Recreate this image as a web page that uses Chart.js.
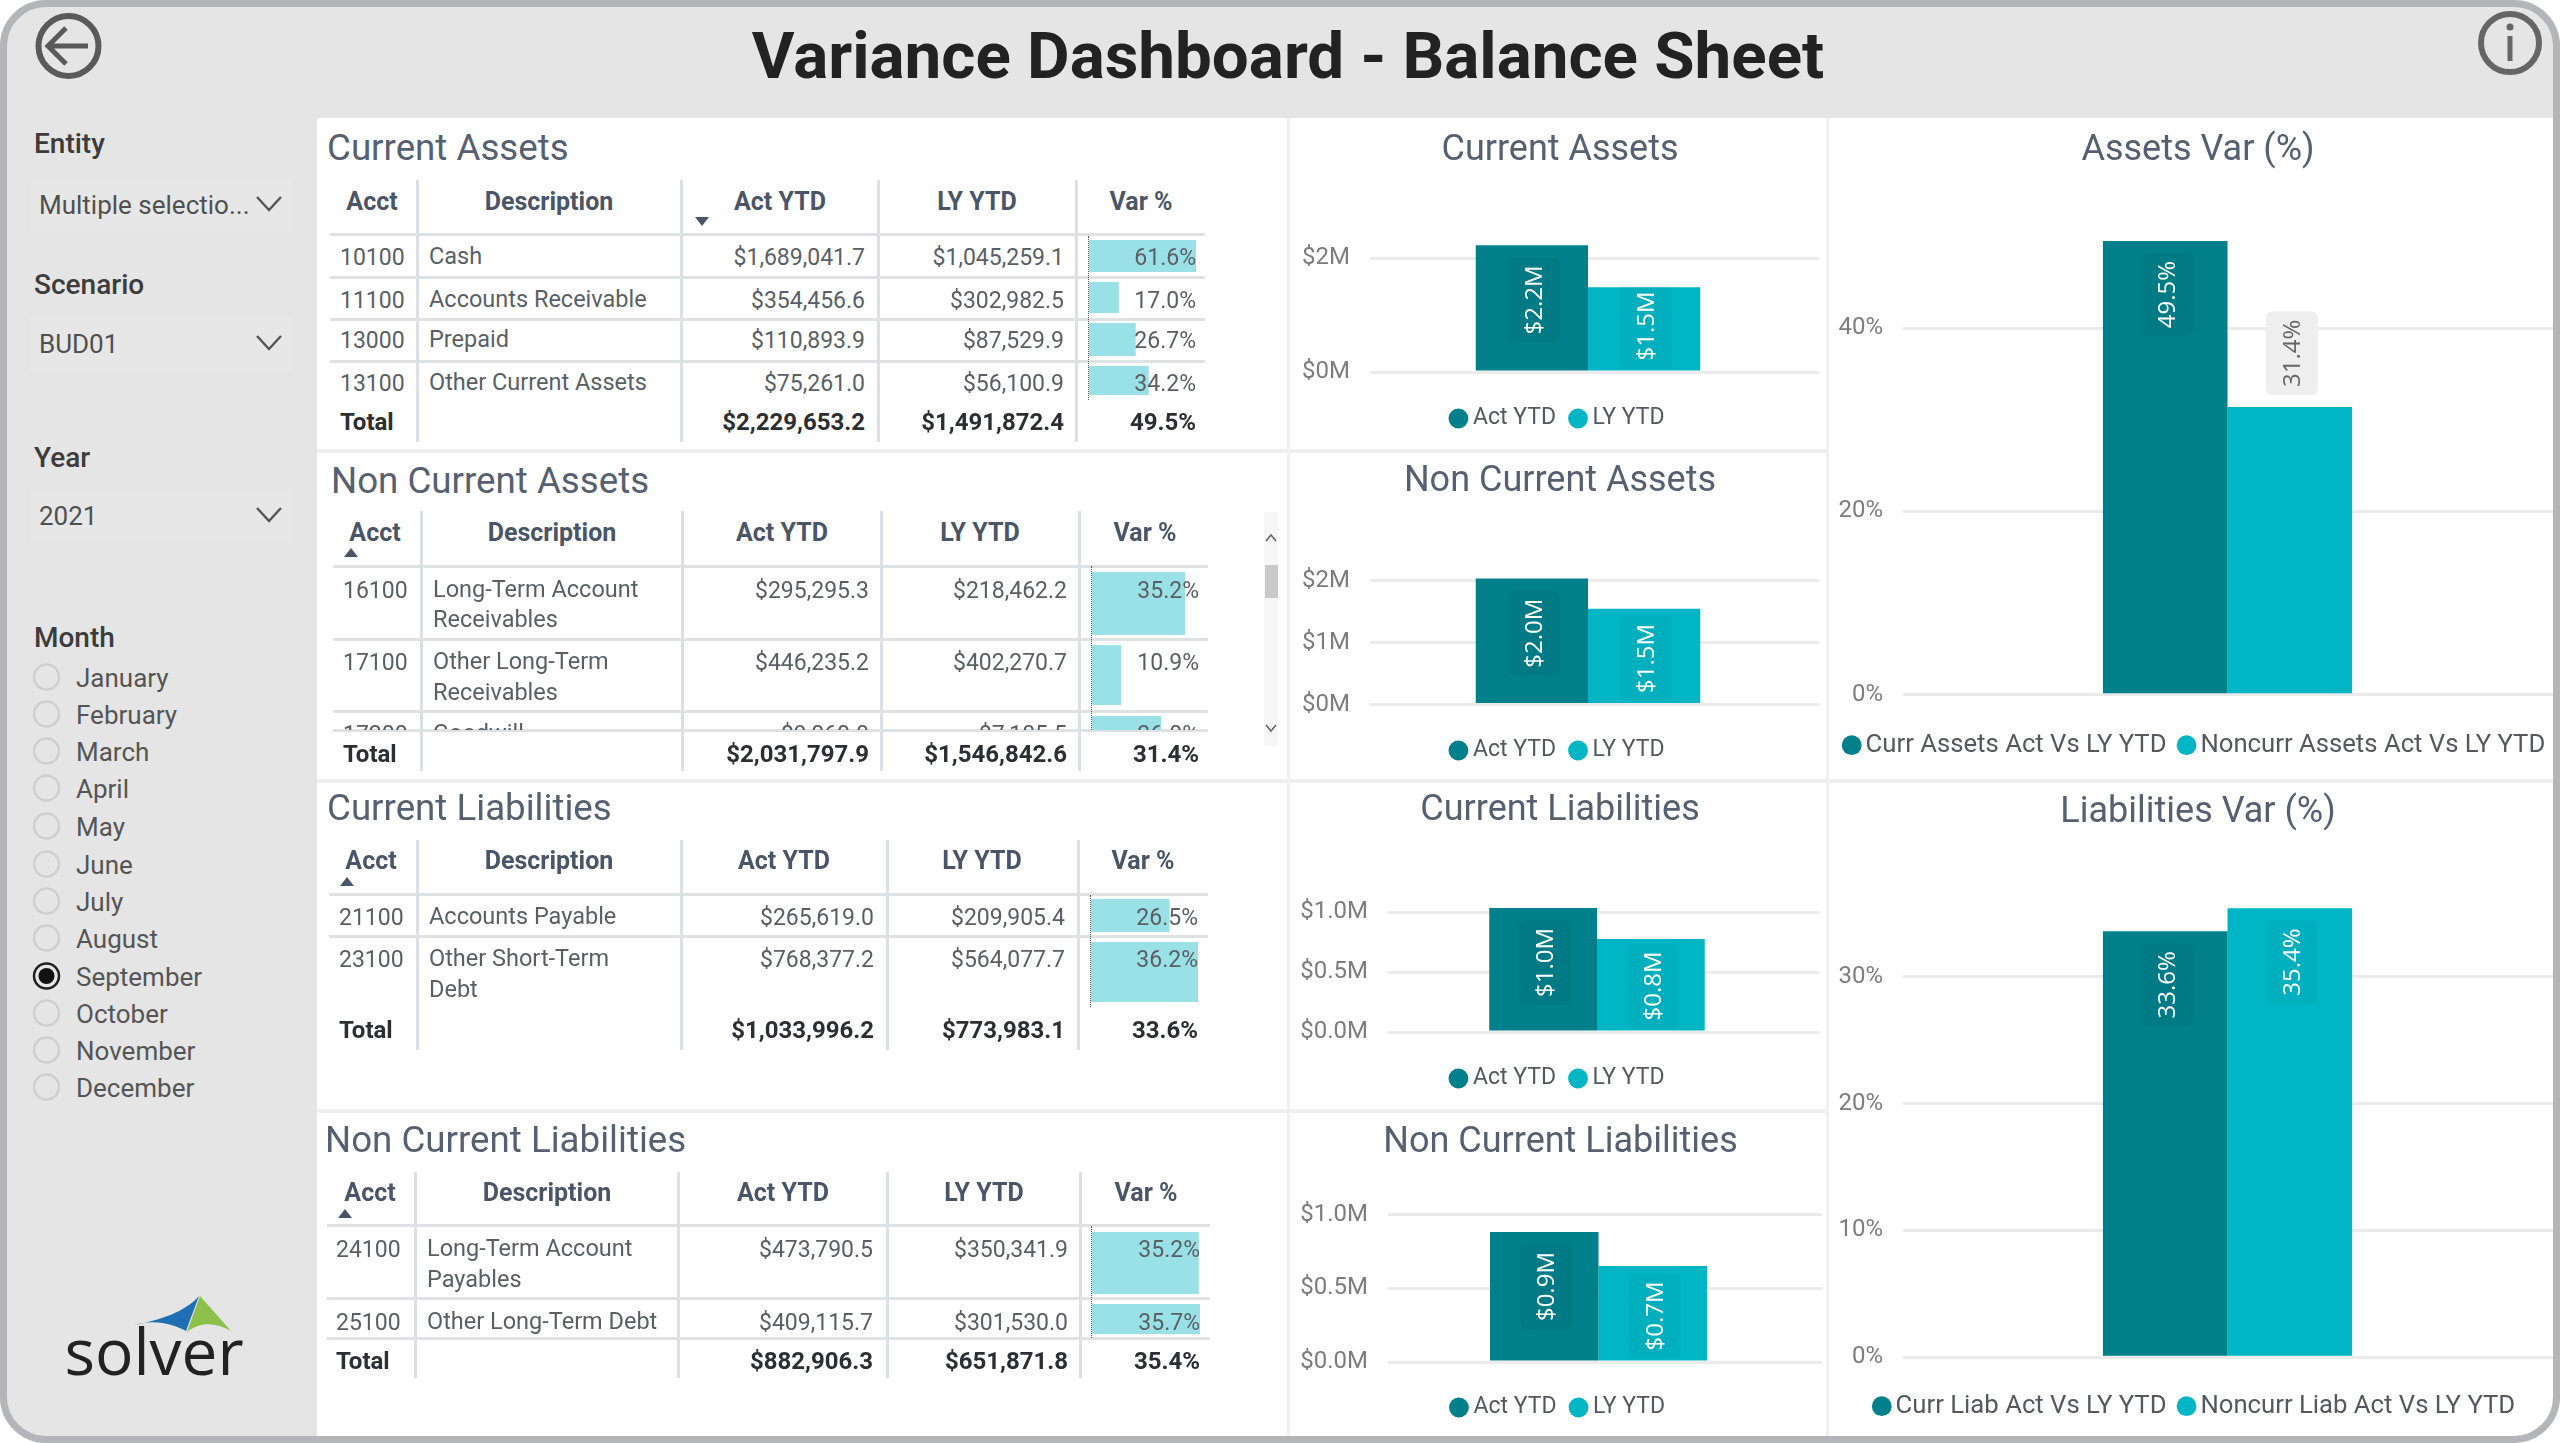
<!DOCTYPE html>
<html><head><meta charset="utf-8">
<script src="https://cdn.jsdelivr.net/npm/chart.js@4"></script>
<style>
html,body{margin:0;padding:0;background:#fff;}
#page{position:relative;width:2560px;height:1443px;overflow:hidden;background:#e5e5e5;font-family:Roboto,sans-serif;}
#page div.t{position:absolute;white-space:nowrap;line-height:1;}
#page canvas{position:absolute;}
.box{position:absolute;}
#frame{position:absolute;left:0;top:0;width:2546px;height:1429px;border:7px solid #b3b5b8;border-radius:46px;box-shadow:0 0 0 60px #fff;pointer-events:none;z-index:50;}
svg{position:absolute;overflow:visible;}
</style></head><body><div id="page"></div>
<script>
// ---------- data ----------
const months=['January','February','March','April','May','June','July','August','September','October','November','December'];
const selectedMonth='September';
const filters=[['Entity','Multiple selectio...'],['Scenario','BUD01'],['Year','2021']];
const tableHeaders=['Acct','Description','Act YTD','LY YTD','Var %'];
const currentAssetsRows=[
 ['10100',['Cash'],'$1,689,041.7','$1,045,259.1',61.6],
 ['11100',['Accounts Receivable'],'$354,456.6','$302,982.5',17.0],
 ['13000',['Prepaid'],'$110,893.9','$87,529.9',26.7],
 ['13100',['Other Current Assets'],'$75,261.0','$56,100.9',34.2]];
const currentAssetsTotal=['$2,229,653.2','$1,491,872.4','49.5%'];
const nonCurrentAssetsRows=[
 ['16100',['Long-Term Account','Receivables'],'$295,295.3','$218,462.2',35.2],
 ['17100',['Other Long-Term','Receivables'],'$446,235.2','$402,270.7',10.9],
 ['17200',['Goodwill'],'$9,060.0','$7,185.5',26.0]];
const nonCurrentAssetsTotal=['$2,031,797.9','$1,546,842.6','31.4%'];
const currentLiabRows=[
 ['21100',['Accounts Payable'],'$265,619.0','$209,905.4',26.5],
 ['23100',['Other Short-Term','Debt'],'$768,377.2','$564,077.7',36.2]];
const currentLiabTotal=['$1,033,996.2','$773,983.1','33.6%'];
const nonCurrentLiabRows=[
 ['24100',['Long-Term Account','Payables'],'$473,790.5','$350,341.9',35.2],
 ['25100',['Other Long-Term Debt'],'$409,115.7','$301,530.0',35.7]];
const nonCurrentLiabTotal=['$882,906.3','$651,871.8','35.4%'];
const ytdLabels=['Act YTD','LY YTD'];
const currentAssetsBars=[2.2297,1.4919];
const nonCurrentAssetsBars=[2.0318,1.5468];
const currentLiabBars=[1.034,0.774];
const nonCurrentLiabBars=[0.8829,0.6519];
const assetsVarLabels=['Curr Assets Act Vs LY YTD','Noncurr Assets Act Vs LY YTD'];
const assetsVarValues=[49.5,31.4];
const liabVarLabels=['Curr Liab Act Vs LY YTD','Noncurr Liab Act Vs LY YTD'];
const liabVarValues=[33.6,35.4];
const tickM2=[0,2], tickM1=[0,1,2], tickHalf=[0,0.5,1], tickPctA=[0,20,40], tickPctL=[0,10,20,30];

// ---------- helpers ----------
const FONT='Roboto, sans-serif';
const page=document.getElementById('page');
const C_HEAD='#4a5567', C_BODY='#5a5f66', C_TOTAL='#2b2f33', C_TITLE='#566070';
const C_ACT='#00808a', C_LY='#00b6c5', C_DATABAR='#9ae1e7';
function box(x,y,w,h,bg,extra){const d=document.createElement('div');d.className='box';
 d.style.cssText=`left:${x}px;top:${y}px;width:${w}px;height:${h}px;background:${bg};`+(extra||'');(page||document.body).appendChild(d);return d;}
function txt(s,x,y,o){o=o||{};const d=document.createElement('div');d.className='t';d.textContent=s;
 const tx=o.align==='right'?'-100%':o.align==='center'?'-50%':'0';
 d.style.cssText=`left:${x}px;top:${y}px;transform:translate(${tx},-50%);font-size:${o.size||23}px;font-weight:${o.weight||400};color:${o.color||C_BODY};`+(o.font?`font-family:${o.font};`:'')+(o.ls?`letter-spacing:${o.ls}px;`:'');
 (o.parent||page).appendChild(d);return d;}
function svg(html){const s=document.createElementNS('http://www.w3.org/2000/svg','svg');s.setAttribute('width','2560');s.setAttribute('height','1443');s.style.left='0';s.style.top='0';s.innerHTML=html;page.appendChild(s);return s;}
Chart.defaults.animation=false;
Chart.defaults.font.family=FONT;
Chart.defaults.devicePixelRatio=1;

// ---------- static frame ----------
box(317,118,2243,1325,'#ffffff');
[[317,449,1510,4],[317,779,1510,4],[317,1109,1510,4],[1827,779,733,4]].forEach(a=>box(a[0],a[1],a[2],a[3],'#efefef'));
[[1287,118,3,1325],[1826,118,3,1325]].forEach(a=>box(a[0],a[1],a[2],a[3],'#f0f0f0'));
txt('Variance Dashboard - Balance Sheet',1288,56,{align:'center',size:65.5,weight:700,color:'#222222'});
svg(`<circle cx="68.5" cy="46" r="30" fill="none" stroke="#5a5a5a" stroke-width="6"/>
<path d="M50 46H88M66 28L48 46L66 64" fill="none" stroke="#5a5a5a" stroke-width="5"/>
<circle cx="2510" cy="43" r="29" fill="none" stroke="#666" stroke-width="6"/>
<rect x="2507.5" y="36" width="5" height="25" fill="#666"/><circle cx="2510" cy="27" r="3.5" fill="#666"/>
<path d="M135 1325C160 1320 185 1312 199 1296L186 1331C170 1322 150 1320 135 1325Z" fill="#1f6fb5"/>
<path d="M200 1296L231 1331C215 1322 200 1322 187 1332Z" fill="#8cc04b"/>`);
txt('solver',154,1351,{align:'center',size:64,color:'#222',font:'"Open Sans",sans-serif'});

// ---------- sidebar ----------
const filterY=[[144,205],[285,344],[458,516]];
filters.forEach((f,i)=>{const y=filterY[i];
 txt(f[0],34,y[0],{size:28,color:'#3c3c3c',weight:500});
 box(30,y[1]-27,262,54,'#e7e7e7');
 txt(f[1],39,y[1],{size:26,color:'#505050'});
 svg(`<polyline points="257,${y[1]-8} 269,${y[1]+5} 281,${y[1]-8}" fill="none" stroke="#555" stroke-width="2.4"/>`);
});
txt('Month',34,638,{size:28,color:'#3c3c3c',weight:500});
const monthY=[678,715,752,789,827,865,902,939,977,1014,1051,1088];
months.forEach((m,i)=>{const y=monthY[i],on=m===selectedMonth;
 svg(`<circle cx="46.5" cy="${y-1}" r="12.5" fill="none" stroke="${on?'#222':'#cfcfcf'}" stroke-width="2.5"/>`+(on?`<circle cx="46.5" cy="${y-1}" r="8" fill="#111"/>`:''));
 txt(m,76,y,{size:26,color:'#555'});
});

// ---------- tables ----------
const tableLayouts=[
 {title:'Current Assets',tx:327,ty:148,rows:currentAssetsRows,total:currentAssetsTotal,
  seps:[417,681,878,1076],sepY:[180,442],hdrY:201,hc:[372,549,780,977,1141],line:[330,1205],lines:[234,277,319,361],
  acct:340,desc:429,act:865,ly:1064,vr:1196,barX:1089,barW:107,barMax:61.6,axis:[236,400],
  rowY:[[257],[300],[340],[383]],bars:[[240,272],[282,313],[323,356],[366,395]],totY:422,arrow:[702,221,'down']},
 {title:'Non Current Assets',tx:331,ty:481,rows:nonCurrentAssetsRows,total:nonCurrentAssetsTotal,
  seps:[421,682,881,1079],sepY:[511,771],hdrY:532,hc:[375,552,782,980,1145],line:[333,1208],lines:[566,639,711,730],
  acct:343,desc:433,act:869,ly:1067,vr:1199,barX:1092,barW:93,barMax:35.2,axis:[566,730],
  rowY:[[590,620],[662,693],[734]],bars:[[572,635],[645,705],[716,778]],totY:754,arrow:[351,553,'up'],clip:730},
 {title:'Current Liabilities',tx:327,ty:808,rows:currentLiabRows,total:currentLiabTotal,
  seps:[417,681,887,1078],sepY:[840,1050],hdrY:860,hc:[371,549,784,982,1143],line:[329,1208],lines:[894,936],
  acct:339,desc:429,act:874,ly:1065,vr:1198,barX:1091,barW:107,barMax:36.2,axis:[895,1007],
  rowY:[[917],[959,990]],bars:[[899,932],[942,1002]],totY:1030,arrow:[347,882,'up']},
 {title:'Non Current Liabilities',tx:325,ty:1140,rows:nonCurrentLiabRows,total:nonCurrentLiabTotal,
  seps:[415,678,887,1080],sepY:[1172,1378],hdrY:1192,hc:[370,547,783,984,1146],line:[327,1210],lines:[1225,1298,1338],
  acct:336,desc:427,act:873,ly:1068,vr:1200,barX:1092,barW:108,barMax:35.7,axis:[1226,1338],
  rowY:[[1249,1280],[1322]],bars:[[1232,1294],[1304,1334]],totY:1361,arrow:[345,1214,'up']}
];
function miniBar(value,t,top,bottom,parent){
 const c=document.createElement('canvas');c.width=t.barW;c.height=bottom-top;
 c.style.left=t.barX+'px';c.style.top=top+'px';parent.appendChild(c);
 new Chart(c,{type:'bar',data:{labels:[''],datasets:[{data:[value],backgroundColor:C_DATABAR,categoryPercentage:1,barPercentage:1}]},
  options:{indexAxis:'y',responsive:false,layout:{padding:0},plugins:{legend:{display:false},title:{display:false},tooltip:{enabled:false}},
   scales:{x:{display:false,min:0,max:t.barMax},y:{display:false}}}});
}
tableLayouts.forEach(t=>{
 txt(t.title,t.tx,t.ty,{size:36.7,color:C_TITLE});
 t.seps.forEach(x=>box(x-1.5,t.sepY[0],3,t.sepY[1]-t.sepY[0],'#dcdfe4'));
 t.lines.forEach(y=>box(t.line[0],y-1.5,t.line[1]-t.line[0],3,'#dfe2e5'));
 tableHeaders.forEach((h,i)=>txt(h,t.hc[i],t.hdrY,{align:'center',size:25,weight:700,color:C_HEAD}));
 const a=t.arrow;
 svg(a[2]==='up'?`<path d="M${a[0]-7} ${a[1]+4}L${a[0]} ${a[1]-5}L${a[0]+7} ${a[1]+4}Z" fill="${C_HEAD}"/>`:`<path d="M${a[0]-7} ${a[1]-4}L${a[0]} ${a[1]+5}L${a[0]+7} ${a[1]-4}Z" fill="${C_HEAD}"/>`);
 const holder=document.createElement('div');
 holder.style.cssText='position:absolute;left:0;top:0;width:2560px;height:'+(t.clip||1443)+'px;overflow:hidden;';
 page.appendChild(holder);
 t.rows.forEach((r,i)=>{
  const ys=t.rowY[i],y=ys[0],b=t.bars[i];
  miniBar(r[4],t,b[0],b[1],holder);
  txt(r[0],t.acct,y,{parent:holder});
  r[1].forEach((line,k)=>txt(line,t.desc,ys[k],{parent:holder,size:23.5}));
  txt(r[2],t.act,y,{align:'right',parent:holder});
  txt(r[3],t.ly,y,{align:'right',parent:holder});
  txt(r[4].toFixed(1)+'%',t.vr,y,{align:'right',parent:holder});
 });
 box(t.barX-1,t.axis[0],0,t.axis[1]-t.axis[0],'none','border-left:1px dotted #555;');
 const tot={align:'right',weight:700,color:C_TOTAL,size:24};
 txt('Total',t.acct,t.totY,{weight:700,color:C_TOTAL,size:24});
 txt(t.total[0],t.act,t.totY,tot);txt(t.total[1],t.ly,t.totY,tot);txt(t.total[2],t.vr,t.totY,tot);
});
box(1264,512,14,234,'#f6f6f6');box(1265,565,13,33,'#c9c9c9');
svg(`<polyline points="1266,541 1271,535 1276,541" fill="none" stroke="#666" stroke-width="1.6"/><polyline points="1266,725 1271,731 1276,725" fill="none" stroke="#666" stroke-width="1.6"/>`);

// ---------- bar charts ----------
const barLabelPlugin={id:'rotatedLabels',
 beforeDatasetsUpdate(chart,args,opts){chart.scales.x._startPixel+=opts.shift||0;},
 afterDatasetsDraw(chart,args,opts){
 const ctx=chart.ctx;
 chart.data.datasets.forEach((ds,i)=>{
  const bar=chart.getDatasetMeta(i).data[0];if(!bar)return;
  const s=opts.format(ds.data[0]);
  ctx.save();ctx.font='24px "Open Sans", sans-serif';
  const len=ctx.measureText(s).width, out=opts.outside[i];
  let cy=out?bar.y-12-(len+16)/2:Math.min(bar.y+20+len/2,bar.base-10-len/2);
  const cx=bar.x+2;
  ctx.translate(cx,cy);ctx.rotate(-Math.PI/2);
  ctx.fillStyle=out?'#eeeeee':'rgba(0,0,0,0.035)';
  ctx.beginPath();ctx.roundRect(-len/2-8,-26,len+16,52,6);ctx.fill();
  ctx.fillStyle=out?'#666666':'#ffffff';ctx.textAlign='center';ctx.textBaseline='middle';
  ctx.fillText(s,0,1);ctx.restore();
 });
}};
function barChart(c){
 const cv=document.createElement('canvas');
 const top=c.titleY-30,bottom=c.legendY+24,W=c.right-c.left,H=bottom-top;
 cv.width=W;cv.height=H;cv.style.left=c.left+'px';cv.style.top=top+'px';page.appendChild(cv);
 const ts=36,tp=33-0.6*ts,bp=c.plotTop-top-tp-1.2*ts;
 new Chart(cv,{type:'bar',plugins:[barLabelPlugin],
  data:{labels:[''],datasets:c.values.map((v,i)=>({label:c.names[i],data:[v],backgroundColor:[C_ACT,C_LY][i],categoryPercentage:c.cat,barPercentage:1}))},
  options:{responsive:false,layout:{padding:{left:0,right:c.padRight,top:0,bottom:0}},
   plugins:{tooltip:{enabled:false},
    title:{display:true,text:c.title,color:C_TITLE,font:{size:ts,weight:'normal',family:FONT},padding:{top:tp,bottom:bp}},
    legend:{position:'bottom',labels:{usePointStyle:true,pointStyle:'circle',boxWidth:c.legendBox,boxHeight:14,padding:19,color:'#55595f',font:{size:c.legendSize,family:FONT}}},
    rotatedLabels:{format:c.format,outside:c.outside||[false,false],shift:c.shift||0}},
   scales:{
    x:{display:true,grid:{display:false},border:{display:false},ticks:{display:false},afterFit(s){s.height=c.legendY-12-19-c.plotBottom;}},
    y:{min:0,max:c.max,border:{display:false},afterFit(s){s.width=c.axisW;},
     afterBuildTicks(s){s.ticks=c.ticks.map(v=>({value:v}));},
     grid:{color:'#ebebeb',lineWidth:3,drawTicks:false},
     ticks:{padding:c.tickPad,color:'#7d7d7d',font:{size:24,family:FONT},callback:c.tickFmt}}}}});
}
const fmtM=v=>'$'+v.toFixed(1)+'M', fmtM0=v=>'$'+v+'M', fmtM1=v=>'$'+Number(v).toFixed(1)+'M', fmtP=v=>v+'%';
const small={names:ytdLabels,format:fmtM,left:1301,right:1830,tickPad:20,cat:0.5,shift:-6.5,legendSize:23,legendBox:6};
const large={format:v=>v.toFixed(1)+'%',left:1825,right:2571,padRight:0,axisW:78,tickPad:20,cat:0.373,shift:-9.5,legendSize:25.7,legendBox:2};
barChart({...small,title:'Current Assets',values:currentAssetsBars,padRight:11,axisW:69,titleY:148,legendY:416,plotTop:230,plotBottom:369,max:2.5,ticks:tickM2,tickFmt:fmtM0});
barChart({...small,title:'Non Current Assets',values:nonCurrentAssetsBars,padRight:11,axisW:69,titleY:479,legendY:748,plotTop:549.6,plotBottom:701.5,max:2.5,ticks:tickM1,tickFmt:fmtM0});
barChart({...small,title:'Current Liabilities',values:currentLiabBars,padRight:11,axisW:87,titleY:808,legendY:1076,plotTop:882,plotBottom:1029,max:1.25,ticks:tickHalf,tickFmt:fmtM1});
barChart({...small,left:1299,title:'Non Current Liabilities',values:nonCurrentLiabBars,padRight:8,axisW:89,titleY:1140,legendY:1405,plotTop:1178,plotBottom:1359,max:1.25,ticks:tickHalf,tickFmt:fmtM1});
barChart({...large,title:'Assets Var (%)',names:assetsVarLabels,values:assetsVarValues,outside:[false,true],titleY:148,legendY:744,plotTop:190.5,plotBottom:694.5,max:55,ticks:tickPctA,tickFmt:fmtP});
barChart({...large,title:'Liabilities Var (%)',names:liabVarLabels,values:liabVarValues,titleY:810,legendY:1405,plotTop:850,plotBottom:1357,max:40,ticks:tickPctL,tickFmt:fmtP});

const fr=document.createElement('div');fr.id='frame';page.appendChild(fr);
</script></body></html>
